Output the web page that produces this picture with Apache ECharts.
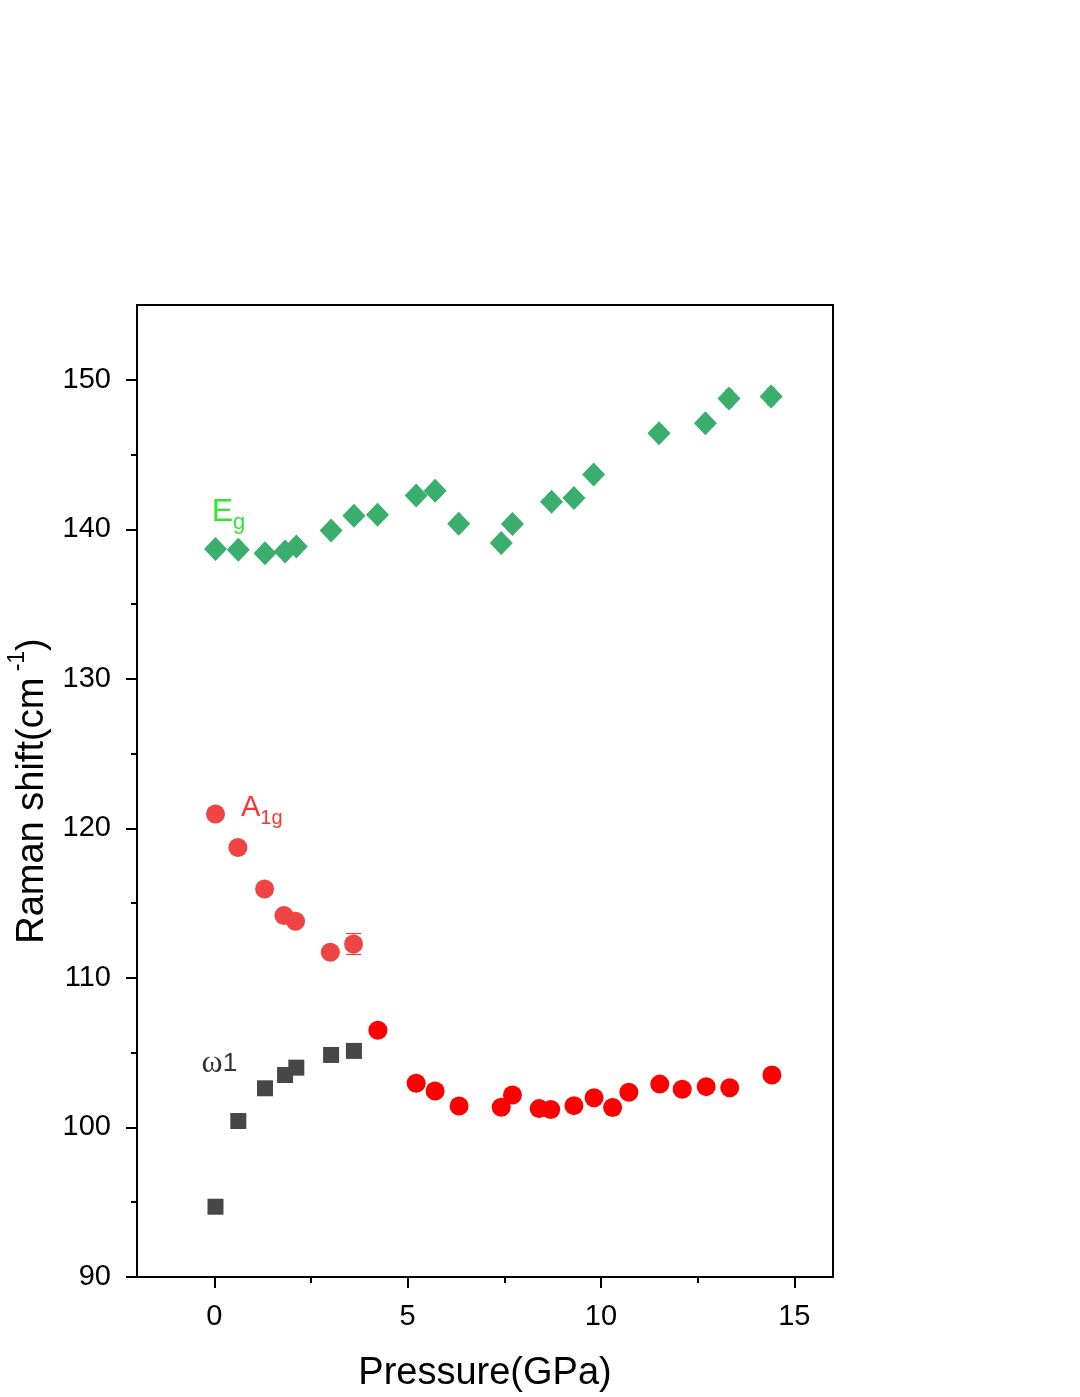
<!DOCTYPE html>
<html>
<head>
<meta charset="utf-8">
<script src="https://cdn.jsdelivr.net/npm/echarts@6/dist/echarts.min.js"></script>
<style>
html,body{margin:0;padding:0;background:#fff;}
#chart{width:1080px;height:1397px;}
</style>
</head>
<body>
<div id="chart"></div>
<script>
// ---- data ----
const pressureEg = [0.03,0.62,1.31,1.83,2.12,3.02,3.61,4.22,5.22,5.71,6.32,7.42,7.71,8.72,9.3,9.81,11.5,12.7,13.31,14.4];
const ramanEg    = [138.68,138.63,138.4,138.52,138.85,139.92,140.9,140.97,142.26,142.58,140.37,139.08,140.35,141.84,142.09,143.67,146.43,147.1,148.75,148.88];
const errEg      = [0,0,0,0,0,0,0,0,0,0,0,0,0,0,0,0,0,0,0.55,0.55];

const pressureA1gLow = [0.03,0.61,1.3,1.8,2.1,3.0,3.6];
const ramanA1gLow    = [120.96,118.72,115.95,114.17,113.79,111.72,112.27];
const errA1gLow      = [0,0,0,0,0,0,0.7];

const pressureA1gHigh = [4.23,5.22,5.71,6.33,7.42,7.71,8.4,8.7,9.3,9.82,10.3,10.72,11.52,12.1,12.72,13.33,14.42];
const ramanA1gHigh    = [106.5,102.96,102.44,101.43,101.35,102.17,101.26,101.2,101.46,101.99,101.33,102.35,102.9,102.56,102.73,102.66,103.51];

const pressureW1 = [0.03,0.62,1.31,1.83,2.12,3.02,3.61];
const ramanW1    = [94.70,100.43,102.62,103.51,104.0,104.85,105.12];

const xMajorTicks = [0,5,10,15];
const xMinorTicks = [2.5,7.5,12.5];
const yMajorTicks = [90,100,110,120,130,140,150];
const yMinorTicks = [95,105,115,125,135,145];

const xTitle = 'Pressure(GPa)';
const yTitle = '{a|Raman shift(cm}{s| -1}{a|)}';

// annotation anchors (data space)
const labelEg  = [-0.07, 140.9];
const labelA1g = [0.69, 121.1];
const labelW1  = [-0.33, 104.3];

const zip = (xs, ys) => xs.map((x, i) => [x, ys[i]]);
const zipErr = (xs, ys, es) => xs.map((x, i) => [x, ys[i], es[i]]).filter(d => d[2] > 0);

const FONT = "'Liberation Sans', Arial, Helvetica, sans-serif";

function errorBarSeries(data, color, capW) {
  return {
    type: 'custom',
    xAxisIndex: 0, yAxisIndex: 0,
    z: 1,
    silent: true,
    data: data,
    renderItem: function (params, api) {
      const x = api.value(0), y = api.value(1), e = api.value(2);
      const top = api.coord([x, y + e]);
      const bot = api.coord([x, y - e]);
      const hw = capW / 2;
      const st = { stroke: color, lineWidth: 1.2 };
      return {
        type: 'group',
        children: [
          { type: 'line', shape: { x1: top[0], y1: top[1], x2: bot[0], y2: bot[1] }, style: st },
          { type: 'line', shape: { x1: top[0] - hw, y1: top[1], x2: top[0] + hw, y2: top[1] }, style: st },
          { type: 'line', shape: { x1: bot[0] - hw, y1: bot[1], x2: bot[0] + hw, y2: bot[1] }, style: st }
        ]
      };
    }
  };
}

function textSeries(pos, formatter, rich) {
  return {
    type: 'scatter',
    xAxisIndex: 0, yAxisIndex: 0,
    symbolSize: 0,
    silent: true,
    data: [pos],
    label: {
      show: true,
      position: 'right',
      distance: 0,
      formatter: formatter,
      rich: rich
    }
  };
}

const axisLineStyle = { show: true, onZero: false, lineStyle: { color: '#000', width: 2 } };

const option = {
  backgroundColor: '#fff',
  animation: false,
  grid: {
    left: 137, right: 247, top: 305, bottom: 120,
    containLabel: false, outerBoundsMode: 'none',
    show: true, borderColor: '#000', borderWidth: 2, backgroundColor: 'transparent'
  },
  xAxis: [
    {
      type: 'value', min: -2, max: 16, position: 'bottom',
      axisLine: axisLineStyle,
      axisTick: { show: true, inside: false, length: 11, lineStyle: { color: '#000', width: 2 }, customValues: xMajorTicks },
      axisLabel: { show: true, customValues: xMajorTicks, fontSize: 29, color: '#000', fontFamily: FONT, margin: 25 },
      splitLine: { show: false },
      name: xTitle, nameLocation: 'middle', nameGap: 77,
      nameTextStyle: { fontSize: 38, color: '#000', fontFamily: FONT, lineHeight: 40 }
    },
    {
      type: 'value', min: -2, max: 16, position: 'bottom',
      axisLine: { show: false, onZero: false },
      axisTick: { show: true, inside: false, length: 6, lineStyle: { color: '#000', width: 2 }, customValues: xMinorTicks },
      axisLabel: { show: false },
      splitLine: { show: false }
    }
  ],
  yAxis: [
    {
      type: 'value', min: 90, max: 155, position: 'left',
      axisLine: axisLineStyle,
      axisTick: { show: true, inside: false, length: 11, lineStyle: { color: '#000', width: 2 }, customValues: yMajorTicks },
      axisLabel: { show: true, customValues: yMajorTicks, fontSize: 29, color: '#000', fontFamily: FONT, margin: 26 },
      splitLine: { show: false },
      name: yTitle, nameLocation: 'middle', nameGap: 84, nameRotate: 90,
      nameTextStyle: {
        rich: {
          a: { fontSize: 38, color: '#000', fontFamily: FONT, lineHeight: 46, verticalAlign: 'bottom' },
          s: { fontSize: 23, color: '#000', fontFamily: FONT, lineHeight: 46, verticalAlign: 'top' }
        }
      }
    },
    {
      type: 'value', min: 90, max: 155, position: 'left',
      axisLine: { show: false, onZero: false },
      axisTick: { show: true, inside: false, length: 6, lineStyle: { color: '#000', width: 2 }, customValues: yMinorTicks },
      axisLabel: { show: false },
      splitLine: { show: false }
    }
  ],
  series: [
    errorBarSeries(zipErr(pressureEg, ramanEg, errEg), '#3aae6c', 8),
    errorBarSeries(zipErr(pressureA1gLow, ramanA1gLow, errA1gLow), '#ef4444', 15),
    {
      name: 'omega1', type: 'scatter', xAxisIndex: 0, yAxisIndex: 0, z: 3,
      symbol: 'rect', symbolSize: 16,
      itemStyle: { color: '#474747', opacity: 1 },
      data: zip(pressureW1, ramanW1)
    },
    {
      name: 'A1g-low', type: 'scatter', xAxisIndex: 0, yAxisIndex: 0, z: 3,
      symbol: 'circle', symbolSize: 19,
      itemStyle: { color: '#ef4444', opacity: 1 },
      data: zip(pressureA1gLow, ramanA1gLow)
    },
    {
      name: 'A1g-high', type: 'scatter', xAxisIndex: 0, yAxisIndex: 0, z: 3,
      symbol: 'circle', symbolSize: 19,
      itemStyle: { color: '#ff0000', opacity: 1 },
      data: zip(pressureA1gHigh, ramanA1gHigh)
    },
    {
      name: 'Eg', type: 'scatter', xAxisIndex: 0, yAxisIndex: 0, z: 3,
      symbol: 'diamond', symbolSize: [23, 24],
      itemStyle: { color: '#3aae6c', opacity: 1 },
      data: zip(pressureEg, ramanEg)
    },
    textSeries(labelEg, '{m|E}{s|g}', {
      m: { fontSize: 32, color: '#00e000', fontFamily: FONT, verticalAlign: 'bottom', lineHeight: 36, padding: [0, 0, 6, 0] },
      s: { fontSize: 22, color: '#00e000', fontFamily: FONT, verticalAlign: 'bottom', lineHeight: 26 }
    }),
    textSeries(labelA1g, '{m|A}{s|1g}', {
      m: { fontSize: 29, color: '#ff0000', fontFamily: FONT, verticalAlign: 'bottom', lineHeight: 33, padding: [0, 0, 6, 0] },
      s: { fontSize: 20, color: '#ff0000', fontFamily: FONT, verticalAlign: 'bottom', lineHeight: 23 }
    }),
    textSeries(labelW1, '{w|ω}{m|1}', {
      w: { fontSize: 32, color: '#000', fontFamily: "'Liberation Serif', 'Times New Roman', serif", verticalAlign: 'bottom', lineHeight: 32 },
      m: { fontSize: 26, color: '#000', fontFamily: FONT, verticalAlign: 'bottom', lineHeight: 32, padding: [0, 0, 2, 0] }
    })
  ]
};

const chart = echarts.init(document.getElementById('chart'), null, { renderer: 'canvas' });
chart.setOption(option);
</script>
</body>
</html>
